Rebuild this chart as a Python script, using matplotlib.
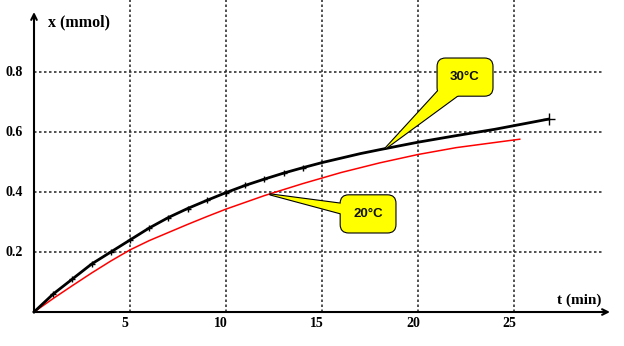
import matplotlib.pyplot as plt

# data
t_30 = [0, 1, 2, 3, 4, 5, 6, 7, 8, 9, 10, 11, 12, 13, 14, 15, 16, 17, 18, 20, 22, 24, 26.8]
x_30 = [0, 0.06, 0.11, 0.16, 0.20, 0.24, 0.28, 0.315, 0.345, 0.372, 0.398, 0.422, 0.443,
        0.463, 0.481, 0.498, 0.513, 0.528, 0.541, 0.566, 0.588, 0.609, 0.643]
marked = list(range(1, 15))

t_20 = [0, 1, 2, 3, 4, 5, 6, 7, 8, 9, 10, 12, 14, 16, 18, 20, 22, 24, 25.3]
x_20 = [0, 0.045, 0.088, 0.13, 0.17, 0.207, 0.238, 0.265, 0.292, 0.318, 0.343, 0.388,
        0.428, 0.465, 0.497, 0.525, 0.548, 0.565, 0.576]

x_ticks = [5, 10, 15, 20, 25]
y_ticks = [0.2, 0.4, 0.6, 0.8]
y_tick_labels = ['0.2', '0.4', '0.6', '0.8']

serif = 'Liberation Serif'
sans = 'Liberation Sans'

fig = plt.figure(figsize=(6.24, 3.46), dpi=100)
ax = fig.add_axes([0, 0, 1, 1])
ax.set_xlim(-1.771, 30.73)
ax.set_ylim(-0.1133, 1.04)
ax.axis('off')

# dotted grid
grid_kw = dict(color='#333333', lw=1.2, dashes=(1.5, 1.5), zorder=1)
for t in x_ticks:
    ax.plot([t, t], [0, 1.04], **grid_kw)
for y in y_ticks:
    ax.plot([0, 29.6], [y, y], **grid_kw)

# axes with arrows
ax.annotate('', xy=(30, 0), xytext=(0, 0),
            arrowprops=dict(arrowstyle='->', lw=1.5, color='black', shrinkA=0, shrinkB=0))
ax.annotate('', xy=(0, 1.0), xytext=(0, 0),
            arrowprops=dict(arrowstyle='->', lw=1.5, color='black', shrinkA=0, shrinkB=0))

for t in x_ticks:
    ax.text(t - 0.25, -0.037, str(t), ha='center', va='center',
            fontsize=10, fontweight='bold', family=serif)
for y, lab in zip(y_ticks, y_tick_labels):
    ax.text(-1.04, y, lab, ha='center', va='center',
            fontsize=10, fontweight='bold', family=serif)

ax.text(0.75, 0.967, 'x (mmol)', ha='left', va='center',
        fontsize=11.5, fontweight='bold', family=serif)
ax.text(28.4, 0.04, 't (min)', ha='center', va='center',
        fontsize=11, fontweight='bold', family=serif)

# curves
ax.plot(t_20, x_20, color='red', lw=1.1, zorder=3)
ax.plot(t_30, x_30, color='black', lw=2, marker='+', ms=5, mew=1,
        markevery=marked, zorder=4)
ax.plot(t_30[-1], x_30[-1], marker='+', ms=8, mew=1, color='black', zorder=4)


def callout(text, tip, pos, tail):
    # outlined layer then a fill-only layer so the box and pointer merge
    for ec, lw in (('black', 1.6), ('none', 0)):
        ax.annotate(text, xy=tip, xytext=pos, ha='center', va='center',
                    fontsize=9.5, fontweight='bold', family=sans, color='#111111',
                    bbox=dict(boxstyle='round,pad=0.95,rounding_size=0.6',
                              fc='yellow', ec=ec, lw=lw),
                    arrowprops=dict(arrowstyle='wedge,tail_width=%s' % tail,
                                    fc='yellow', ec=ec, lw=lw, patchA=None,
                                    shrinkA=0, shrinkB=0),
                    zorder=6)


callout('30°C', (18.3, 0.545), (22.45, 0.783), 1.6)
callout('20°C', (12.3, 0.392), (17.4, 0.327), 1.0)

fig.savefig('out.png', dpi=100)
